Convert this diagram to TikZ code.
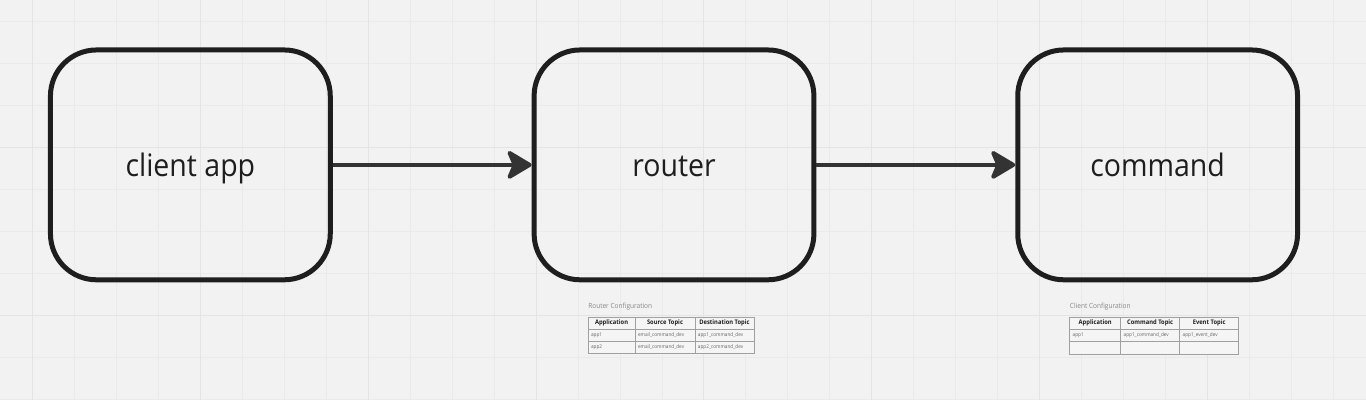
\documentclass[tikz,border=0pt]{standalone}
\usepackage{fontspec}
\setmainfont{Open Sans}[FakeStretch=0.92]
\usetikzlibrary{positioning,arrows.meta}

\definecolor{canvas}{HTML}{F2F2F2}
\definecolor{gridminor}{HTML}{EAEAEA}
\definecolor{gridmajor}{HTML}{E4E4E4}
\definecolor{boxline}{HTML}{1E1E1E}
\definecolor{arrowline}{HTML}{333333}
\definecolor{textdark}{HTML}{1E1E1E}
\definecolor{textgray}{HTML}{666666}
\definecolor{titlegray}{HTML}{888888}
\definecolor{tblline}{HTML}{A0A0A0}
\definecolor{tblfill}{HTML}{F5F5F5}

\begin{document}
\begin{tikzpicture}[
    box/.style={draw=boxline, line width=5pt, rounded corners=46pt,
        minimum width=280pt, minimum height=230pt,
        text height=23pt, text depth=0pt,
        font=\fontsize{31}{34}\selectfont, text=textdark},
    flow/.style={draw=arrowline, line width=4pt,
        -{Stealth[length=28pt, width=33pt, inset=7pt, round]}},
    tbltitle/.style={inner sep=0pt, text=titlegray, font=\fontsize{7.1}{8}\selectfont},
    hcell/.style={draw=tblline, fill=tblfill, line width=0.8pt, inner sep=0pt,
        outer sep=0pt, minimum height=12pt, text=textdark,
        font=\fontsize{6.3}{7}\selectfont\bfseries},
    bcell/.style={hcell, inner xsep=3pt, align=left, text=textgray,
        font=\fontsize{5.1}{6}\selectfont}]
% canvas and grid
\fill[canvas] (0,0) rectangle (1366pt,-400pt);
\foreach \x in {32,74,...,1334} \draw[gridminor, line width=1pt] (\x pt,0) -- (\x pt,-400pt);
\foreach \y in {21,63,...,399} \draw[gridminor, line width=1pt] (0,-\y pt) -- (1366pt,-\y pt);
\foreach \x in {32,200,...,1208} \draw[gridmajor, line width=1pt] (\x pt,0) -- (\x pt,-400pt);
\foreach \y in {147,315} \draw[gridmajor, line width=1pt] (0,-\y pt) -- (1366pt,-\y pt);
\useasboundingbox (0,0) rectangle (1366pt,-400pt);

\node[box] (client) at (190pt,-164.5pt) {client app};
\node[box, right=199pt of client] (router) {router};
\node[box, right=199pt of router] (command) {command};
\draw[flow] (client) -- (router);
\draw[flow] (router) -- (command);

% router configuration
\node[tbltitle, below right=26pt and 56.5pt of router.south west, anchor=base west] (rtitle) {Router Configuration};
\node[hcell, minimum width=47pt, below right=35pt and 56.5pt of router.south west] (rapp) {Application};
\node[hcell, minimum width=60pt, right=0pt of rapp] (rsrc) {Source Topic};
\node[hcell, minimum width=59pt, right=0pt of rsrc] (rdst) {Destination Topic};
\node[bcell, text width=41pt, below=0pt of rapp] (rapp1) {app1};
\node[bcell, text width=54pt, below=0pt of rsrc] (rsrc1) {email\_command\_dev};
\node[bcell, text width=53pt, below=0pt of rdst] (rdst1) {app1\_command\_dev};
\node[bcell, text width=41pt, below=0pt of rapp1] (rapp2) {app2};
\node[bcell, text width=54pt, below=0pt of rsrc1] (rsrc2) {email\_command\_dev};
\node[bcell, text width=53pt, below=0pt of rdst1] (rdst2) {app2\_command\_dev};

% client configuration
\node[tbltitle, below right=26pt and 54.5pt of command.south west, anchor=base west] (ctitle) {Client Configuration};
\node[hcell, minimum width=51pt, below right=35pt and 54.5pt of command.south west] (capp) {Application};
\node[hcell, minimum width=59pt, right=0pt of capp] (ccmd) {Command Topic};
\node[hcell, minimum width=59pt, right=0pt of ccmd] (cevt) {Event Topic};
\node[bcell, text width=45pt, below=0pt of capp] (capp1) {app1};
\node[bcell, text width=53pt, below=0pt of ccmd] (ccmd1) {app1\_command\_dev};
\node[bcell, text width=53pt, below=0pt of cevt] (cevt1) {app1\_event\_dev};
\node[bcell, text width=45pt, minimum height=13pt, below=0pt of capp1] (capp2) {};
\node[bcell, text width=53pt, minimum height=13pt, below=0pt of ccmd1] (ccmd2) {};
\node[bcell, text width=53pt, minimum height=13pt, below=0pt of cevt1] (cevt2) {};
\end{tikzpicture}
\end{document}
